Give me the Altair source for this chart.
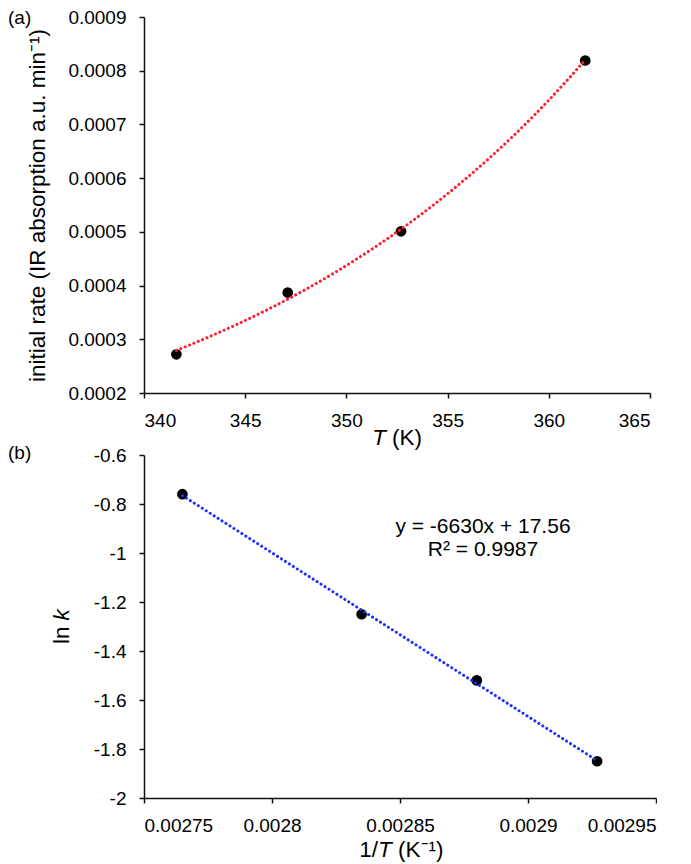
import altair as alt
import pandas as pd

# ---- data ----
temps_K = [341.6, 347.1, 352.7, 361.8]
initial_rate = [0.000272, 0.000387, 0.000501, 0.000819]

inv_T = [0.002765, 0.002835, 0.00288, 0.002927]
ln_k = [-0.76, -1.25, -1.52, -1.85]

top_x_ticks = [340, 345, 350, 355, 360, 365]
top_y_ticks = [0.0002, 0.0003, 0.0004, 0.0005, 0.0006, 0.0007, 0.0008, 0.0009]
bot_x_ticks = [0.00275, 0.0028, 0.00285, 0.0029, 0.00295]
bot_y_ticks = [-2, -1.8, -1.6, -1.4, -1.2, -1, -0.8, -0.6]

eq_text = "y = -6630x + 17.56"
r2_text = "R² = 0.9987"

FONT = "Liberation Sans"
FS = 19      # tick labels
TFS = 22.5   # axis titles
AFS = 21     # annotation

df_a = pd.DataFrame({"T": temps_K, "rate": initial_rate})
df_b = pd.DataFrame({"invT": inv_T, "lnk": ln_k})
one = pd.DataFrame({"o": [0]})

W1, H1 = 506, 376
W2, H2 = 512, 343


def txt(text, x, y, align="left", baseline="middle", style="normal", angle=0, size=FS):
    kw = dict(text=text, align=align, baseline=baseline, font=FONT, fontSize=size,
              fontStyle=style, color="black")
    if angle:
        kw["angle"] = angle
    return alt.Chart(one).mark_text(**kw).encode(x=alt.value(x), y=alt.value(y))


# ---- panel (a) ----
xa = alt.X("T:Q", scale=alt.Scale(domain=[340, 365], nice=False),
           axis=alt.Axis(values=top_x_ticks, format="d", title=None))
ya = alt.Y("rate:Q", scale=alt.Scale(domain=[0.0002, 0.0009], nice=False),
           axis=alt.Axis(values=top_y_ticks, format=".4f",
                         title="initial rate (IR absorption a.u. min⁻¹)",
                         titlePadding=18))

pts_a = alt.Chart(df_a).mark_circle(size=115, color="black", opacity=1).encode(x=xa, y=ya)
fit_a = alt.Chart(df_a).transform_regression("T", "rate", method="exp").mark_line(
    color="#ff1f2f", strokeWidth=3, strokeDash=[0.1, 4.6], strokeCap="round"
).encode(x=xa, y=ya)

panel_a = alt.layer(
    pts_a, fit_a,
    txt("T", 242, H1 + 45, align="right", style="italic", size=TFS),
    txt("(K)", 248, H1 + 45, align="left", size=TFS),
    txt("(a)", -136, 1, align="left"),
).properties(width=W1, height=H1)

# ---- panel (b) ----
xb = alt.X("invT:Q", scale=alt.Scale(domain=[0.00275, 0.00295], nice=False),
           axis=alt.Axis(values=bot_x_ticks, format="~g", title=None))
yb = alt.Y("lnk:Q", scale=alt.Scale(domain=[-2, -0.6], nice=False),
           axis=alt.Axis(values=bot_y_ticks, format="~g", title=None,
                         labelExpr="replace(datum.label, '\u2212', '-')"))

pts_b = alt.Chart(df_b).mark_circle(size=115, color="black", opacity=1).encode(x=xb, y=yb)
fit_b = alt.Chart(df_b).transform_regression("invT", "lnk", method="linear").mark_line(
    color="#1f2fff", strokeWidth=3, strokeDash=[0.1, 4.6], strokeCap="round"
).encode(x=xb, y=yb)

panel_b = alt.layer(
    pts_b, fit_b,
    txt(eq_text, 339, 72, align="center", size=AFS),
    txt(r2_text, 339, 95, align="center", size=AFS),
    txt("ln", -82, H2 / 2, align="right", angle=270, size=TFS),
    txt("k", -82, H2 / 2 - 6, align="left", angle=270, style="italic", size=TFS),
    txt("1/", 234, H2 + 52, align="right", size=TFS),
    txt("T", 234, H2 + 52, align="left", style="italic", size=TFS),
    txt("(K⁻¹)", 254, H2 + 52, align="left", size=TFS),
    txt("(b)", -136, -2, align="left"),
).properties(width=W2, height=H2)

chart = alt.vconcat(panel_a, panel_b, spacing=62, bounds="flush").properties(
    padding=0
).configure_view(
    stroke=None
).configure_axis(
    grid=False,
    domainColor="#111111",
    tickColor="#111111",
    domainWidth=1.5,
    tickWidth=1.5,
    tickSize=5,
    labelFont=FONT,
    labelFontSize=FS,
    labelColor="black",
    labelPadding=13,
    titleFont=FONT,
    titleFontSize=TFS,
    titleFontWeight="normal",
    titleColor="black",
)

chart.save("out.html", embed_options={"renderer": "svg", "actions": False})
